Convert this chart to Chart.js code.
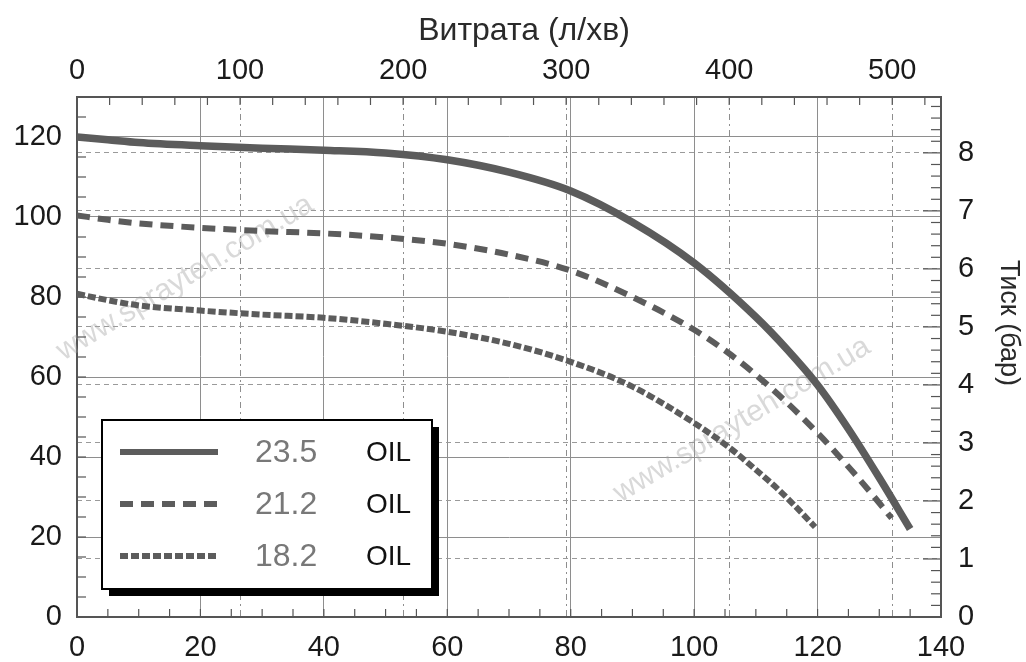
<!DOCTYPE html>
<html><head><meta charset="utf-8">
<script src="https://cdn.jsdelivr.net/npm/chart.js@4/dist/chart.umd.min.js"></script>
<style>html,body{margin:0;padding:0;background:#fff}#wrap{width:1026px;height:662px;position:relative}</style>
</head><body><div id="wrap"><canvas id="c"></canvas></div>
<script>
// Flow (US gpm) and pressure (psi)
const flow235 = [0,5,10,20,30,40,50,60,70,80,90,100,110,115,120,125,130,135];
const psi235  = [120,119.3,118.6,117.8,117.2,116.7,116,114.3,111.2,106.5,98.7,88.5,75,67,58,47,34.8,22];
const flow212 = [0,5,10,20,30,40,50,60,70,80,90,100,106,113,120,126,130,132];
const psi212  = [100.4,99.3,98.4,97.3,96.5,95.9,94.9,93.3,90.6,86.6,80,71.8,65.5,56.5,46,35.8,28.5,24.7];
const flow182 = [0,5,10,20,30,40,50,60,70,80,90,100,106,110,113,116,119.6];
const psi182  = [80.8,79.2,77.9,76.6,75.6,74.8,73.3,71.3,68.3,63.8,57.6,48.5,42,36.8,32.8,28.3,22.5];
const seriesLabels = ['23.5','21.2','18.2'];
const legendSuffix = 'OIL';
const topTitle = 'Витрата (л/хв)';
const rightTitle = 'Тиск (бар)';
const watermark = 'www.sprayteh.com.ua';
const GPM_MAX = 140, PSI_MAX = 130;
const LPM_PER_GPM = 3.785, PSI_PER_BAR = 14.5038;

const FONT = '"Liberation Sans", Arial, sans-serif';
const tickFont = {family: FONT, size: 29};
const lineColor = '#5c5c5c';
const dashes = [[], [13, 8], [8, 3]];

const toPts = (xs, ys) => xs.map((x, i) => ({x: x, y: ys[i]}));

const decor = {
  id: 'decor',
  beforeDatasetsDraw(chart) {
    const {ctx, chartArea: a, scales} = chart;
    ctx.save();
    // watermarks
    ctx.font = '30px ' + FONT;
    ctx.fillStyle = 'rgba(160,160,160,0.4)';
    ctx.textAlign = 'center'; ctx.textBaseline = 'middle';
    [[185, 278], [742, 420]].forEach(([cx, cy]) => {
      ctx.save(); ctx.translate(cx, cy); ctx.rotate(-31 * Math.PI / 180);
      ctx.fillText(watermark, 0, 0); ctx.restore();
    });
    // inward minor ticks
    ctx.strokeStyle = '#555'; ctx.lineWidth = 1.2;
    const seg = (x1, y1, x2, y2) => { ctx.beginPath(); ctx.moveTo(x1, y1); ctx.lineTo(x2, y2); ctx.stroke(); };
    for (let v = 5; v < GPM_MAX; v += 5) { const p = scales.x.getPixelForValue(v); seg(p, a.bottom, p, a.bottom - 8); }
    for (let v = 20; v < GPM_MAX * LPM_PER_GPM; v += 20) { const p = scales.x2.getPixelForValue(v); seg(p, a.top, p, a.top + 8); }
    for (let v = 5; v < PSI_MAX; v += 5) { const p = scales.y.getPixelForValue(v); seg(a.left, p, a.left + 9, p); }
    for (let i = 1; i * 0.2 < PSI_MAX / PSI_PER_BAR; i++) { const p = scales.y2.getPixelForValue(i * 0.2); seg(a.right, p, a.right - (i % 5 === 0 ? 18 : 10), p); }
    ctx.restore();
  },
  afterDatasetsDraw(chart) {
    const {ctx, chartArea: a} = chart;
    ctx.save();
    const bx = a.left + 25, by = 420, bw = 330, bh = 169;
    ctx.fillStyle = '#000';
    ctx.fillRect(bx + 7, by + 7, bw, bh);
    ctx.fillStyle = '#fff';
    ctx.fillRect(bx, by, bw, bh);
    ctx.strokeStyle = '#000'; ctx.lineWidth = 2;
    ctx.strokeRect(bx, by, bw, bh);
    chart.data.datasets.forEach((ds, i) => {
      const ly = by + 32 + i * 52;
      ctx.strokeStyle = ds.borderColor; ctx.lineWidth = 6; ctx.lineCap = 'butt';
      ctx.setLineDash(ds.borderDash || []);
      ctx.beginPath(); ctx.moveTo(bx + 18, ly); ctx.lineTo(bx + 116, ly); ctx.stroke();
      ctx.setLineDash([]);
      ctx.textBaseline = 'middle'; ctx.textAlign = 'left';
      ctx.font = '32px ' + FONT; ctx.fillStyle = '#787878';
      ctx.fillText(ds.label, bx + 153, ly + 1);
      ctx.font = '28px ' + FONT; ctx.fillStyle = '#111';
      ctx.fillText(legendSuffix, bx + 264, ly + 1);
    });
    ctx.restore();
  },
  afterDraw(chart) {
    const {ctx} = chart;
    ctx.save();
    ctx.fillStyle = '#2a2a2a'; ctx.textAlign = 'center'; ctx.textBaseline = 'middle';
    ctx.font = '32px ' + FONT;
    ctx.fillText(topTitle, 524, 31);
    ctx.translate(1008, 323); ctx.rotate(Math.PI / 2);
    ctx.font = '27px ' + FONT;
    ctx.fillText(rightTitle, 0, 0);
    ctx.restore();
  }
};

const mk = (label, xs, ys, i) => ({
  label: label, data: toPts(xs, ys), borderColor: lineColor, borderWidth: i === 0 ? 7.5 : 6,
  borderDash: dashes[i], borderCapStyle: 'butt', pointRadius: 0, fill: false,
  cubicInterpolationMode: 'monotone', xAxisID: 'x', yAxisID: 'y'
});

new Chart(document.getElementById('c'), {
  type: 'line',
  data: {datasets: [mk(seriesLabels[0], flow235, psi235, 0), mk(seriesLabels[1], flow212, psi212, 1), mk(seriesLabels[2], flow182, psi182, 2)]},
  options: {
    responsive: true, maintainAspectRatio: false, animation: false,
    layout: {padding: 0},
    plugins: {legend: {display: false}, tooltip: {enabled: false}},
    scales: {
      x: {type: 'linear', position: 'bottom', min: 0, max: GPM_MAX,
        ticks: {stepSize: 20, includeBounds: false, font: tickFont, color: '#1a1a1a', padding: 14, maxRotation: 0},
        grid: {color: '#8e8e8e', lineWidth: 1, drawTicks: false}, border: {color: '#555', width: 2},
        afterFit(s) { s.height = 45; }},
      x2: {type: 'linear', position: 'top', min: 0, max: GPM_MAX * LPM_PER_GPM,
        ticks: {stepSize: 100, includeBounds: false, font: tickFont, color: '#1a1a1a', padding: 9, maxRotation: 0},
        grid: {color: '#8e8e8e', lineWidth: 1, drawTicks: false}, border: {color: '#555', width: 2, dash: [6, 4, 2, 4]},
        afterFit(s) { s.height = 97; }},
      y: {type: 'linear', position: 'left', min: 0, max: PSI_MAX,
        ticks: {stepSize: 20, includeBounds: false, font: tickFont, color: '#1a1a1a', padding: 15},
        grid: {color: '#8e8e8e', lineWidth: 1, drawTicks: false}, border: {color: '#555', width: 2},
        afterFit(s) { s.width = 77; }},
      y2: {type: 'linear', position: 'right', min: 0, max: PSI_MAX / PSI_PER_BAR,
        ticks: {stepSize: 1, includeBounds: false, font: tickFont, color: '#1a1a1a', padding: 17},
        grid: {color: '#9a9a9a', lineWidth: 1, drawTicks: false}, border: {color: '#555', width: 2, dash: [5, 4]},
        afterFit(s) { s.width = 85; }}
    }
  },
  plugins: [decor]
});
</script></body></html>
